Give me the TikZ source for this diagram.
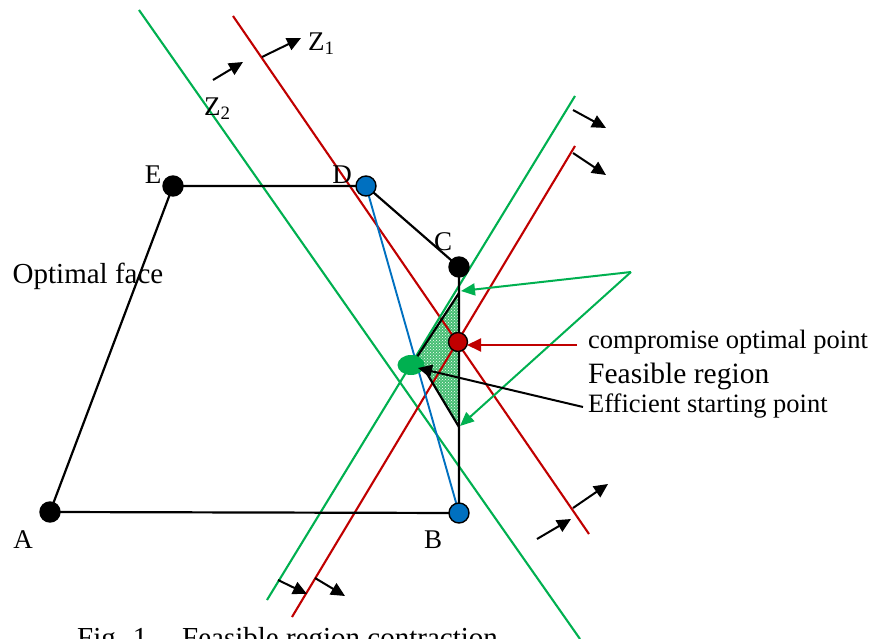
\documentclass[tikz,border=0pt]{standalone}
\usepackage{fontspec}
\setmainfont{Liberation Serif}
\usetikzlibrary{arrows.meta,patterns,shapes.geometric}
\definecolor{lgreen}{RGB}{0,176,80}
\definecolor{lred}{RGB}{192,0,0}
\definecolor{lblue}{RGB}{0,112,192}
\definecolor{trig}{RGB}{70,190,115}
\pgfdeclarelayer{bg}
\pgfsetlayers{bg,main}
\begin{document}
\begin{tikzpicture}[x=1pt,y=-1pt,
  dot/.style={circle, draw=black, line width=1.4pt, minimum size=20pt, inner sep=0},
  lbl/.style={font=\fontsize{27}{32}\selectfont, inner sep=0},
  txt/.style={font=\fontsize{26.5}{31}\selectfont, inner sep=0, anchor=base west},
  poly/.style={draw=black, line width=2.2pt},
  gline/.style={draw=lgreen, line width=2.1pt},
  rline/.style={draw=lred, line width=2.1pt},
  bline/.style={draw=lblue, line width=1.9pt},
  blkarrow/.style={draw=black, line width=2pt, -{Triangle[length=14pt,width=13pt]}},
  garrow/.style={draw=lgreen, line width=2pt, -{Triangle[length=14pt,width=12pt]}},
  rarrow/.style={draw=lred, line width=2pt, -{Triangle[length=14pt,width=13pt]}}
]
\useasboundingbox (0,0) rectangle (881,639);

% vertices
\node[dot, fill=black] (A) at (50,512) {};
\node[dot, fill=lblue] (B) at (459,513) {};
\node[dot, fill=black] (C) at (459,267) {};
\node[dot, fill=lblue] (D) at (366,186) {};
\node[dot, fill=black] (E) at (173,186) {};
\node[dot, fill=lred, minimum size=19pt] (P) at (458,342) {};
\node[ellipse, fill=lgreen, minimum width=27pt, minimum height=20pt, inner sep=0] (S) at (411,365) {};

% feasible region
\coordinate (t1) at (459,293);
\coordinate (t2) at (417,357);
\coordinate (t3) at (459,427);

% long constraint lines
\coordinate (g1a) at (139,10);  \coordinate (g1b) at (580,639);
\coordinate (r1a) at (233,16);  \coordinate (r1b) at (589,534);
\coordinate (g2a) at (575,96);  \coordinate (g2b) at (267,600);
\coordinate (r2a) at (575,146); \coordinate (r2b) at (292,617);

\begin{pgfonlayer}{bg}
  \fill[trig] (t1) -- (t2) -- (t3) -- cycle;
  \fill[pattern=crosshatch dots, pattern color=white] (t1) -- (t2) -- (t3) -- cycle;
  \draw[gline] (g1a) -- (g1b);
  \draw[rline] (r1a) -- (r1b);
  \draw[gline] (g2a) -- (g2b);
  \draw[rline] (r2a) -- (r2b);
  \draw[bline] (D.center) -- (B.center);
  \draw[poly] (A.center) -- (E.center) -- (D.center) -- (C.center) -- (B.center) -- (A.center);
  \draw[poly] (t1) -- (t2) -- (t3);
\end{pgfonlayer}

% direction arrows
\coordinate (z1s) at (262,57);  \coordinate (z1e) at (301,38);
\coordinate (z2s) at (213,80);  \coordinate (z2e) at (243,62);
\coordinate (u1s) at (573,110); \coordinate (u1e) at (606,128);
\coordinate (u2s) at (573,153); \coordinate (u2e) at (606,175);
\coordinate (l1s) at (278,580); \coordinate (l1e) at (307,594);
\coordinate (l2s) at (315,578); \coordinate (l2e) at (345,596);
\coordinate (m1s) at (537,539); \coordinate (m1e) at (571,519);
\coordinate (m2s) at (573,508); \coordinate (m2e) at (608,484);
\draw[blkarrow] (z1s) -- (z1e);
\draw[blkarrow] (z2s) -- (z2e);
\draw[blkarrow] (u1s) -- (u1e);
\draw[blkarrow] (u2s) -- (u2e);
\draw[blkarrow] (l1s) -- (l1e);
\draw[blkarrow] (l2s) -- (l2e);
\draw[blkarrow] (m1s) -- (m1e);
\draw[blkarrow] (m2s) -- (m2e);

% pointers
\coordinate (fr) at (631,272);
\coordinate (fr1) at (461,291);
\coordinate (fr2) at (460,426);
\draw[garrow] (fr) -- (fr1);
\draw[garrow] (fr) -- (fr2);
\coordinate (cps) at (577,345);
\coordinate (cpe) at (467,345);
\draw[rarrow] (cps) -- (cpe);
\coordinate (ess) at (583,407);
\coordinate (ese) at (418,368);
\draw[blkarrow] (ess) -- (ese);

% labels
\node[lbl] (lA) at (23,540) {A};
\node[lbl] (lB) at (433,540) {B};
\node[lbl] (lC) at (443,242) {C};
\node[lbl] (lD) at (342,175) {D};
\node[lbl] (lE) at (153,175) {E};
\node[lbl, font=\fontsize{29}{34}\selectfont] (opt) at (88,276) {Optimal face};
\node[lbl, anchor=base west] (z1) at (308,51) {Z\textsubscript{1}};
\node[lbl, anchor=base west] (z2) at (204,116) {Z\textsubscript{2}};

\node[txt] (tcp) at (588,348) {compromise optimal point};
\node[txt, font=\fontsize{29.5}{34}\selectfont] (tfr) at (588,383) {Feasible region};
\node[txt] (tes) at (588,412) {Efficient starting point};

\node[txt, font=\fontsize{29}{34}\selectfont] (cap1) at (77,647) {Fig. 1};
\node[txt, font=\fontsize{29}{34}\selectfont] (cap2) at (182,647) {Feasible region contraction};
\end{tikzpicture}
\end{document}
